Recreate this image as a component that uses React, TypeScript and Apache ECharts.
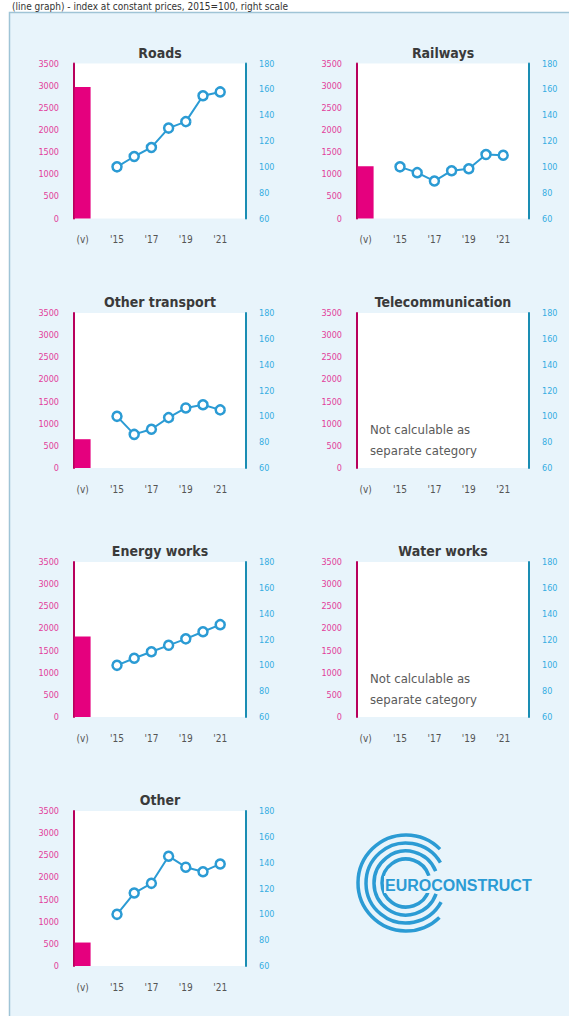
import React, { useEffect, useRef } from "react";
import * as echarts from "echarts";

const categories = ["(v)", "", "'15", "'16", "'17", "'18", "'19", "'20", "'21", ""];
const volumeMin = 0;
const volumeMax = 3500;
const volumeStep = 500;
const indexMin = 60;
const indexMax = 180;
const indexStep = 20;

const panelTitles = ["Roads", "Railways", "Other transport", "Telecommunication", "Energy works", "Water works", "Other"];
const volumes = [2970, 1180, 650, null, 1820, null, 530];
const roadsIndex = [100, 108, 115, 130, 135, 155, 158];
const railwaysIndex = [100, 95.5, 89, 97, 98.5, 109.5, 109];
const otherTransportIndex = [100, 86, 90, 99, 106.5, 109, 105];
const telecomIndex: number[] = [];
const energyIndex = [100, 105.5, 110.5, 115.5, 120.5, 126, 131.5];
const waterIndex: number[] = [];
const otherIndex = [100, 116.5, 124, 145, 136.5, 133, 139];
const indices = [roadsIndex, railwaysIndex, otherTransportIndex, telecomIndex, energyIndex, waterIndex, otherIndex];
const noteText = "Not calculable as\nseparate category";
const headerText = "(line graph) - index at constant prices, 2015=100, right scale";
const logoText = "EUROCONSTRUCT";

const FONT = "'Liberation Sans Narrow', 'DejaVu Sans Condensed', 'Roboto Condensed', 'Arial Narrow', Roboto, sans-serif";
const PINK = "#e5007e";
const BLUE = "#2b9bd4";
const BG = "#e8f4fb";

export default function App() {
  const ref = useRef<HTMLDivElement>(null);
  useEffect(() => {
    if (!ref.current) return;
    const chart = echarts.init(ref.current, undefined, { renderer: "svg" });
    const colLeft = [74, 357];
    const rowTop = [63.5, 313, 562, 811];
    const W = 172;
    const H = 155;
    const grids: any[] = [];
    const xAxes: any[] = [];
    const yAxes: any[] = [];
    const series: any[] = [];
    const graphics: any[] = [];

    graphics.push({
      type: "rect", z: -10,
      shape: { x: 9.5, y: 12.5, width: 600, height: 1040 },
      style: { fill: BG, stroke: "#9fc4d6", lineWidth: 1.5 },
    });
    graphics.push({
      type: "text", x: 12, y: 1, z: 5,
      style: { text: headerText, fontSize: 10, fontFamily: FONT, fill: "#333" },
    });

    panelTitles.forEach((title, i) => {
      const col = i % 2;
      const row = Math.floor(i / 2);
      const left = colLeft[col];
      const top = rowTop[row];
      grids.push({ left, top, width: W, height: H, show: true, backgroundColor: "#fff", borderWidth: 0 });
      xAxes.push({
        type: "category", gridIndex: i, data: categories, boundaryGap: true,
        axisLine: { show: false }, axisTick: { show: false },
        axisLabel: {
          interval: (idx: number) => idx % 2 === 0 && idx <= 8,
          color: "#555", fontSize: 10, fontFamily: FONT, margin: 16,
        },
      });
      yAxes.push({
        type: "value", gridIndex: i, position: "left", min: volumeMin, max: volumeMax, interval: volumeStep,
        axisLine: { show: true, lineStyle: { color: "#b8005c", width: 2 } },
        axisTick: { show: false }, splitLine: { show: false },
        axisLabel: { color: "#e2409a", fontSize: 9, fontFamily: FONT, margin: 15, formatter: (v: number) => String(v) },
      });
      yAxes.push({
        type: "value", gridIndex: i, position: "right", min: indexMin, max: indexMax, interval: indexStep,
        axisLine: { show: true, lineStyle: { color: "#1a8db3", width: 2 } },
        axisTick: { show: false }, splitLine: { show: false },
        axisLabel: { color: "#35ade2", fontSize: 9, fontFamily: FONT, margin: 13 },
      });
      const vol = volumes[i];
      const idxData = indices[i];
      if (vol !== null) {
        series.push({
          type: "bar", xAxisIndex: i, yAxisIndex: 2 * i, barWidth: 16,
          itemStyle: { color: PINK },
          data: categories.map((_, k) => (k === 0 ? vol : null)),
        });
      }
      if (idxData.length) {
        series.push({
          type: "line", xAxisIndex: i, yAxisIndex: 2 * i + 1,
          symbol: "circle", symbolSize: 9,
          lineStyle: { color: BLUE, width: 2 },
          itemStyle: { color: "#fff", borderColor: BLUE, borderWidth: 2.5 },
          data: categories.map((_, k) => (k >= 2 && k <= 8 ? idxData[k - 2] : null)),
        });
      } else {
        graphics.push({
          type: "text", x: left + 13, y: top + 106, z: 10,
          style: { text: noteText, fontSize: 13, lineHeight: 21, fontFamily: FONT, fill: "#5a5a5a" },
        });
      }
      graphics.push({
        type: "text", x: left + W / 2, y: top - 11, z: 10,
        style: { text: title, fontSize: 14, fontWeight: "bold", fontFamily: FONT, fill: "#3a3a3a", align: "center", verticalAlign: "middle" },
      });
    });

    // logo
    const cx = 406, cy = 883;
    const arcs = [
      { r: 48, s: 0.8, e: 5.5 },
      { r: 40, s: 0.5, e: 5.75 },
      { r: 32, s: 0.35, e: 5.9 },
      { r: 24, s: 0.3, e: 5.98 },
    ];
    arcs.forEach((a) => {
      graphics.push({
        type: "arc", z: 5,
        shape: { cx, cy, r: a.r, startAngle: a.s, endAngle: a.e, clockwise: true },
        style: { stroke: BLUE, lineWidth: 3.5, fill: "none" },
      });
    });
    graphics.push({
      type: "rect", z: 5.5,
      shape: { x: 384, y: 876, width: 152, height: 17 },
      style: { fill: BG },
    });
    graphics.push({
      type: "text", x: 385, y: 885, z: 6,
      style: { text: logoText, fontSize: 16, fontWeight: "bold", fontFamily: "'Liberation Sans', Arial, sans-serif", fill: BLUE, verticalAlign: "middle" },
    });

    chart.setOption({
      animation: false,
      backgroundColor: "#fff",
      grid: grids,
      xAxis: xAxes,
      yAxis: yAxes,
      series,
      graphic: { elements: graphics },
    });
    return () => chart.dispose();
  }, []);
  return <div ref={ref} style={{ position: "absolute", left: 0, top: 0, width: 569, height: 1016 }} />;
}
